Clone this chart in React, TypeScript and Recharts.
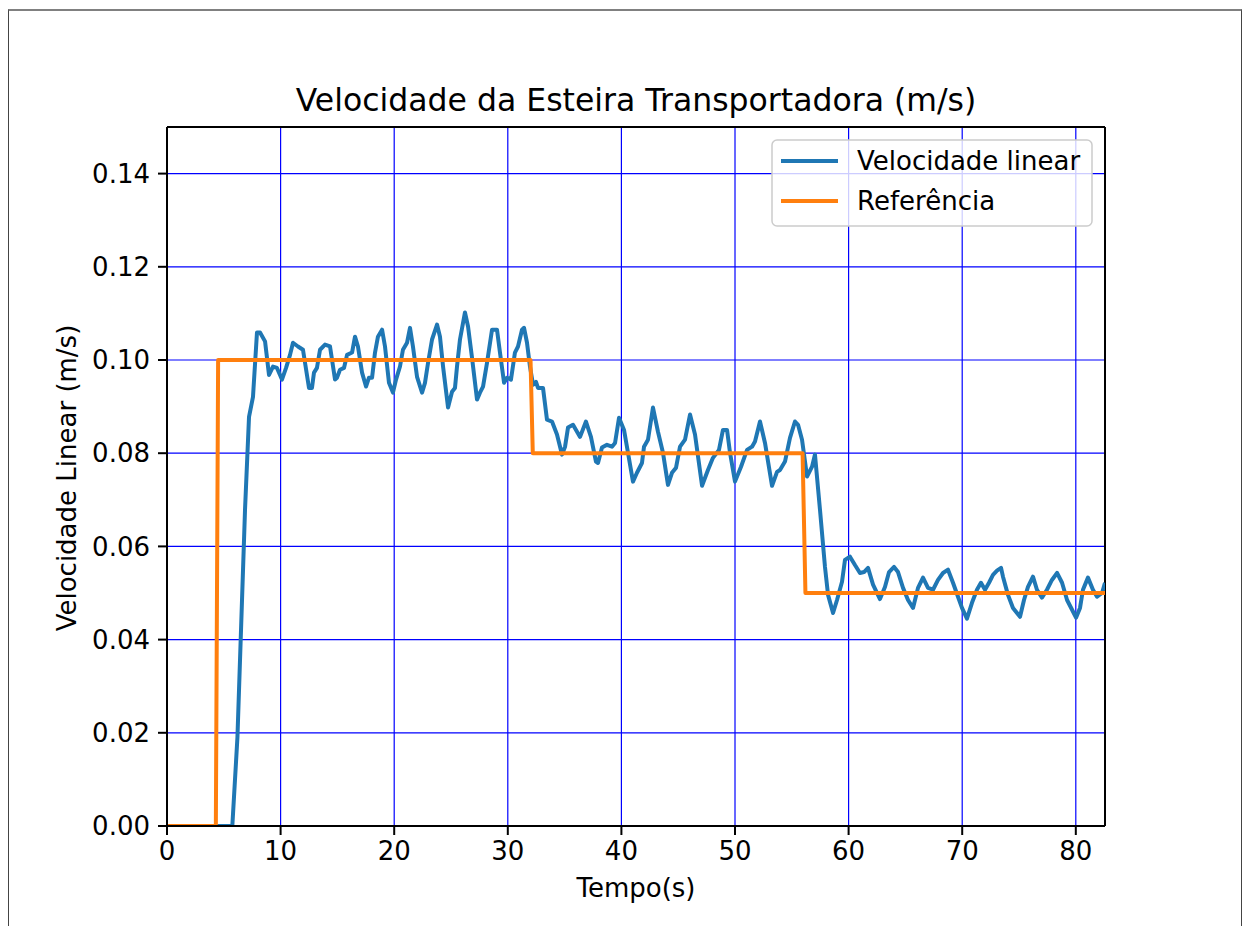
import { LineChart, Line, XAxis, YAxis, CartesianGrid, ReferenceLine } from "recharts";

// time (s) and measured belt speed (m/s)
const velTime = [
  0, 5.75, 6.2, 6.87, 7.22, 7.57, 7.92, 8.19, 8.63, 8.98, 9.33, 9.68, 10.12, 10.48, 10.83, 11.09, 11.53, 11.97,
  12.5, 12.76, 12.94, 13.2, 13.47, 13.91, 14.35, 14.79, 14.96, 15.23, 15.58, 15.85, 16.29, 16.55, 16.81, 17.17,
  17.52, 17.78, 18.05, 18.31, 18.57, 18.93, 19.19, 19.54, 19.89, 20.16, 20.51, 20.77, 21.13, 21.39, 21.65, 22.01,
  22.45, 22.71, 22.98, 23.33, 23.77, 24.03, 24.3, 24.74, 25.09, 25.35, 25.53, 25.79, 26.23, 26.5, 26.85, 27.29,
  27.55, 27.82, 28.17, 28.61, 29.05, 29.31, 29.67, 29.93, 30.28, 30.63, 30.9, 31.25, 31.43, 31.69, 31.95, 32.22,
  32.48, 32.66, 33.1, 33.45, 33.89, 34.33, 34.77, 35.04, 35.3, 35.74, 36.36, 36.88, 37.32, 37.76, 37.94, 38.29,
  38.73, 39.17, 39.44, 39.79, 40.23, 40.58, 41.02, 41.37, 41.81, 41.99, 42.34, 42.78, 43.22, 43.66, 44.1, 44.45,
  44.81, 45.16, 45.6, 46.04, 46.48, 47.1, 47.62, 48.06, 48.59, 48.94, 49.3, 49.56, 50.0, 50.53, 51.06, 51.5,
  51.76, 52.2, 52.64, 53.26, 53.7, 53.96, 54.4, 54.84, 55.28, 55.55, 55.9, 56.34, 56.78, 57.04, 57.48, 57.92,
  58.19, 58.63, 58.98, 59.42, 59.68, 60.12, 60.56, 61.0, 61.36, 61.71, 62.15, 62.76, 63.2, 63.56, 64.0, 64.35,
  64.79, 65.23, 65.67, 66.11, 66.55, 66.99, 67.43, 67.87, 68.31, 68.75, 69.19, 69.63, 69.98, 70.42, 70.86, 71.3,
  71.65, 72.01, 72.36, 72.71, 73.06, 73.42, 73.59, 74.03, 74.47, 75.09, 75.44, 75.79, 76.23, 76.58, 77.02, 77.46,
  77.9, 78.35, 78.79, 79.23, 79.67, 80.02, 80.37, 80.63, 81.07, 81.51, 81.87, 82.31, 82.57,
];
const velValue = [
  0, 0, 0.019, 0.068, 0.0878, 0.0921, 0.1059, 0.1059, 0.104, 0.0968, 0.0986, 0.0983, 0.0958, 0.0983, 0.1011, 0.1037, 0.1029, 0.1022,
  0.094, 0.094, 0.0973, 0.0983, 0.1022, 0.1033, 0.1029, 0.0958, 0.0962, 0.0979, 0.0983, 0.1011, 0.1016, 0.105, 0.1029, 0.0973,
  0.0943, 0.0962, 0.0962, 0.1016, 0.105, 0.1065, 0.1029, 0.0951, 0.093, 0.0958, 0.0986, 0.1022, 0.1037, 0.1069, 0.1029, 0.0964,
  0.093, 0.0951, 0.0994, 0.1044, 0.1076, 0.105, 0.0986, 0.0898, 0.0932, 0.094, 0.0986, 0.1044, 0.1102, 0.1072, 0.1005, 0.0915,
  0.093, 0.0943, 0.0994, 0.1065, 0.1065, 0.1016, 0.0951, 0.0962, 0.0958, 0.1016, 0.1029, 0.1065, 0.1069, 0.1037, 0.0986, 0.0947,
  0.0953, 0.094, 0.094, 0.0872, 0.0868, 0.084, 0.0797, 0.0814, 0.0855, 0.0861, 0.0835, 0.0868, 0.0835, 0.0782, 0.0779, 0.0812,
  0.0818, 0.0814, 0.0822, 0.0876, 0.085, 0.0801, 0.0739, 0.0758, 0.0779, 0.0814, 0.0829, 0.0898, 0.0846, 0.0801, 0.0732, 0.0758,
  0.0769, 0.0814, 0.0829, 0.0883, 0.084, 0.073, 0.0764, 0.079, 0.0807, 0.085, 0.085, 0.0801, 0.0739, 0.0771, 0.0807, 0.0814,
  0.0825, 0.0868, 0.0822, 0.073, 0.076, 0.0764, 0.0782, 0.0833, 0.0868, 0.0861, 0.0829, 0.075, 0.0771, 0.0797, 0.0679, 0.0556,
  0.0496, 0.0457, 0.0485, 0.0524, 0.0571, 0.0578, 0.056, 0.0543, 0.0545, 0.0554, 0.0518, 0.0487, 0.0513, 0.0545, 0.0556, 0.0545,
  0.0511, 0.0485, 0.0468, 0.0511, 0.0533, 0.0511, 0.0507, 0.0528, 0.0543, 0.055, 0.0522, 0.0492, 0.0468, 0.0445, 0.0479, 0.0507,
  0.0522, 0.0507, 0.0522, 0.0539, 0.0548, 0.0554, 0.0535, 0.0496, 0.0468, 0.0449, 0.0485, 0.0513, 0.0535, 0.0507, 0.049, 0.0507,
  0.0528, 0.0543, 0.0522, 0.0485, 0.0464, 0.0447, 0.0468, 0.0507, 0.0533, 0.0507, 0.0492, 0.05, 0.0522,
];

// reference (setpoint) steps
const refTime = [0, 4.3, 4.5, 32.0, 32.2, 55.95, 56.2, 82.6];
const refValue = [0, 0, 0.1, 0.1, 0.08, 0.08, 0.05, 0.05];

const xTicks = [0, 10, 20, 30, 40, 50, 60, 70, 80];
const yTicks = [0, 0.02, 0.04, 0.06, 0.08, 0.1, 0.12, 0.14];
const xMax = 82.57;
const yMax = 0.15;

const seriesNames = ["Velocidade linear", "Referência"];
const seriesColors = ["#1f77b4", "#ff7f0e"];

const FONT = "'DejaVu Sans', sans-serif";

const velData = velTime.map((t, i) => ({ t, v: velValue[i] }));
const refData = refTime.map((t, i) => ({ t, v: refValue[i] }));

export default function App() {
  const tickStyle = { fontSize: 26, fill: "#000", fontFamily: FONT };
  return (
    <div style={{ position: "absolute", left: 0, top: 0, width: 1243, height: 926, overflow: "hidden", background: "#fff" }}>
      {/* page frame around the figure */}
      <div
        style={{
          position: "absolute",
          left: 8,
          top: 9,
          width: 1232,
          height: 960,
          borderTop: "2px solid #808080",
          borderLeft: "1px solid #444",
          borderRight: "1px solid #444",
        }}
      />
      <div style={{ position: "absolute", left: 0, top: 0 }}>
        <LineChart width={1243} height={926} margin={{ top: 127, right: 138, bottom: 40, left: 67 }}>
          <CartesianGrid stroke="#0000ff" strokeWidth={1.2} />
          <XAxis
            type="number"
            dataKey="t"
            domain={[0, xMax]}
            ticks={xTicks}
            allowDataOverflow
            height={60}
            stroke="#000"
            strokeWidth={2}
            tickSize={9}
            tickMargin={7}
            tick={tickStyle}
            tickLine={{ stroke: "#000", strokeWidth: 2 }}
          />
          <YAxis
            type="number"
            dataKey="v"
            domain={[0, yMax]}
            ticks={yTicks}
            allowDataOverflow
            width={100}
            stroke="#000"
            strokeWidth={2}
            tickSize={9}
            tickMargin={8}
            tick={tickStyle}
            tickLine={{ stroke: "#000", strokeWidth: 2 }}
            tickFormatter={(v: number) => v.toFixed(2)}
          />
          <ReferenceLine y={yMax} stroke="#000" strokeWidth={2} />
          <ReferenceLine x={xMax} stroke="#000" strokeWidth={2} />
          <Line
            data={velData}
            dataKey="v"
            name={seriesNames[0]}
            type="linear"
            stroke={seriesColors[0]}
            strokeWidth={4}
            strokeLinejoin="round"
            dot={false}
            activeDot={false}
            isAnimationActive={false}
          />
          <Line
            data={refData}
            dataKey="v"
            name={seriesNames[1]}
            type="linear"
            stroke={seriesColors[1]}
            strokeWidth={4}
            strokeLinejoin="round"
            dot={false}
            activeDot={false}
            isAnimationActive={false}
          />
        </LineChart>
      </div>
      <svg width={1243} height={926} style={{ position: "absolute", left: 0, top: 0, pointerEvents: "none" }}>
        <text x={636} y={111} textAnchor="middle" fontSize={31.5} fontFamily={FONT} fill="#000">
          Velocidade da Esteira Transportadora (m/s)
        </text>
        <text x={636} y={897} textAnchor="middle" fontSize={26} fontFamily={FONT} fill="#000">
          Tempo(s)
        </text>
        <text
          x={76}
          y={478}
          textAnchor="middle"
          fontSize={26}
          fontFamily={FONT}
          fill="#000"
          transform="rotate(-90 76 478)"
        >
          Velocidade Linear (m/s)
        </text>
        <rect x={772} y={140} width={320} height={86} rx={5} fill="#fff" fillOpacity={0.8} stroke="#cccccc" strokeWidth={1.5} />
        {seriesNames.map((name, i) => (
          <g key={name}>
            <line x1={781} x2={838} y1={161 + i * 40} y2={161 + i * 40} stroke={seriesColors[i]} strokeWidth={4} />
            <text x={857} y={170 + i * 40} fontSize={26} fontFamily={FONT} fill="#000">
              {name}
            </text>
          </g>
        ))}
      </svg>
    </div>
  );
}
